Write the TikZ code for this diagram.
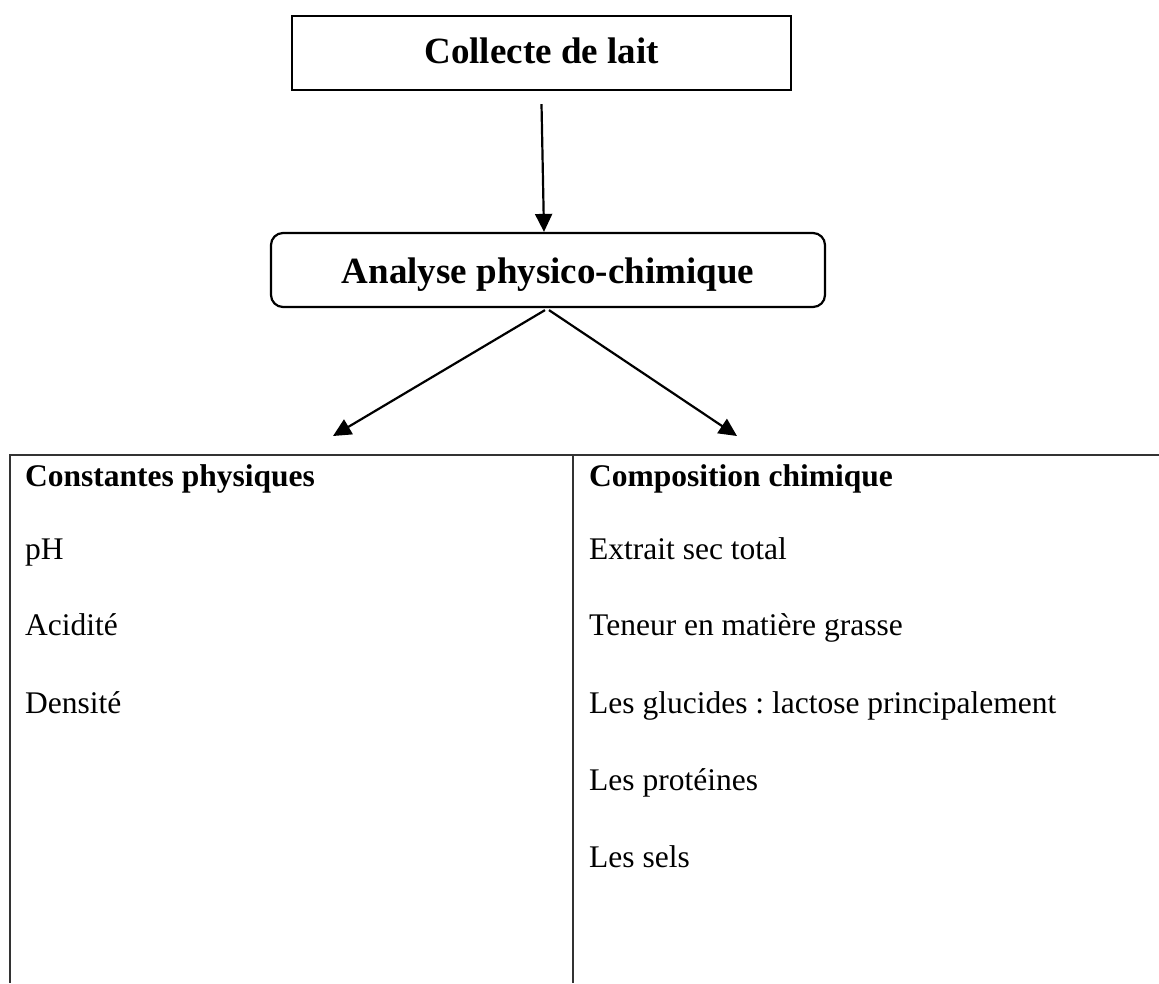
\documentclass[tikz,border=0pt]{standalone}
\usepackage{fontspec}
\setmainfont{Liberation Serif}
\usetikzlibrary{arrows.meta}
\frenchspacing
\begin{document}
\begin{tikzpicture}[x=1pt,y=-1pt,
  boxtext/.style={font=\fontsize{37}{44}\selectfont\bfseries, inner sep=0pt, draw=black, line width=2.2pt},
  sqbox/.style={boxtext, text height=24.5pt, text depth=4.5pt},
  rbox/.style={boxtext, rounded corners=12pt, text height=27pt, text depth=1pt},
  flow/.style={draw=black, line width=2.2pt, -{Triangle[length=18pt,width=17pt]}},
  rule/.style={draw=black!80, line width=2.2pt},
  cell/.style={anchor=base west, inner sep=0pt, font=\fontsize{31.5}{37}\selectfont},
  cellhead/.style={cell, font=\fontsize{31.5}{37}\selectfont\bfseries}
]
\useasboundingbox (0,0) rectangle (1159,983);

% boxes
\node[sqbox, minimum width=499pt, minimum height=74pt] (collecte) at (541.5,53) {Collecte de lait};
\node[rbox, minimum width=554pt, minimum height=74pt] (analyse) at (548,270) {Analyse physico-chimique};

% arrows
\draw[flow] ([yshift=-13pt]collecte.south) -- ([xshift=-4pt]analyse.north);
\coordinate (tipL) at (333,436);
\coordinate (tipR) at (737,436);
\draw[flow] ([xshift=-3pt,yshift=-2pt]analyse.south) -- (tipL);
\draw[flow] ([xshift=1pt,yshift=-2pt]analyse.south) -- (tipR);

% table rules
\coordinate (tl) at (10,455);
\coordinate (tr) at (1159,455);
\coordinate (bl) at (10,983);
\coordinate (tm) at (573,455);
\coordinate (bm) at (573,983);
\draw[rule] (tr) -- (tl) -- (bl);
\draw[rule] (tm) -- (bm);

% left column
\node[cellhead] (lh) at (25,486) {Constantes physiques};
\node[cell] (l1) at (25,559) {pH};
\node[cell] (l2) at (25,635) {Acidité};
\node[cell] (l3) at (25,713) {Densité};

% right column
\node[cellhead] (rh) at (589,486) {Composition chimique};
\node[cell] (r1) at (589,559) {Extrait sec total};
\node[cell] (r2) at (589,635) {Teneur en matière grasse};
\node[cell] (r3) at (589,713) {Les glucides : lactose principalement};
\node[cell] (r4) at (589,790) {Les protéines};
\node[cell] (r5) at (589,867) {Les sels};
\end{tikzpicture}
\end{document}
